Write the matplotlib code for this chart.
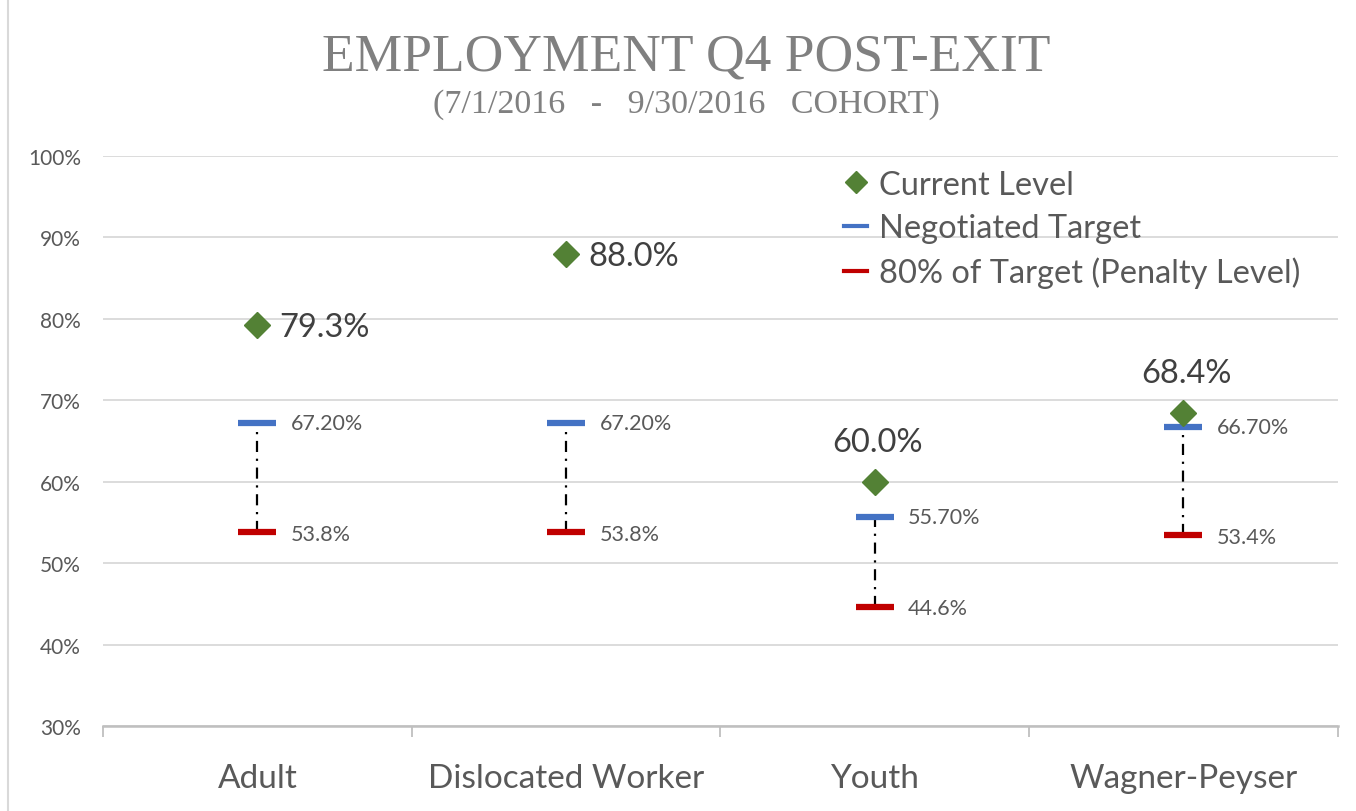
import matplotlib.pyplot as plt
from matplotlib.lines import Line2D

# ---------------- data ----------------
categories = ["Adult", "Dislocated Worker", "Youth", "Wagner-Peyser"]
current = [79.3, 88.0, 60.0, 68.4]
target = [67.2, 67.2, 55.7, 66.7]
penalty = [53.8, 53.8, 44.6, 53.4]
target_labels = ["67.20%", "67.20%", "55.70%", "66.70%"]
penalty_labels = ["53.8%", "53.8%", "44.6%", "53.4%"]
current_labels = ["79.3%", "88.0%", "60.0%", "68.4%"]
yticks = [30, 40, 50, 60, 70, 80, 90, 100]

green = "#538135"
blue = "#4472c4"
red = "#c00000"
txt = "#595959"
body_font = ["Lato", "DejaVu Sans"]

fig = plt.figure(figsize=(13.56, 8.12), dpi=100)
ax = fig.add_axes([0.076, 0.1047, 0.9105, 0.702])

x = list(range(len(categories)))

# ---- dash-dot connectors -----
ax.vlines(x, penalty, target, colors="black", linestyles=(0, (5, 3, 1, 3)), lw=1.6, zorder=2)

ax.plot(x, target, ls="none", marker="_", ms=27, mew=4.5, color=blue, zorder=3)
ax.plot(x, penalty, ls="none", marker="_", ms=27, mew=4.5, color=red, zorder=3)
ax.plot(x, current, ls="none", marker="D", ms=13, color=green, zorder=4)

for i in x:
    ax.annotate(target_labels[i], (i, target[i]), xytext=(24, 0), textcoords="offset points",
                va="center", ha="left", fontsize=15.5, color=txt, family=body_font)
    ax.annotate(penalty_labels[i], (i, penalty[i]), xytext=(24, -1), textcoords="offset points",
                va="center", ha="left", fontsize=15.5, color=txt, family=body_font)
    if i < 2:
        ax.annotate(current_labels[i], (i, current[i]), xytext=(16, -2), textcoords="offset points",
                    va="center", ha="left", fontsize=23.5, color="#404040", family=body_font)
    else:
        ax.annotate(current_labels[i], (i, current[i]), xytext=(2, 18), textcoords="offset points",
                    va="bottom", ha="center", fontsize=23.5, color="#404040", family=body_font)

ax.set_xlim(-0.5, 3.5)
ax.set_ylim(30, 100)
ax.set_yticks(yticks)
ax.set_yticklabels([f"{t}%" for t in yticks], fontsize=15, color=txt, family=body_font)
ax.grid(axis="y", color="#d9d9d9", lw=1.3)
ax.set_axisbelow(True)
for s in ["top", "right", "left"]:
    ax.spines[s].set_visible(False)
ax.spines["bottom"].set_color("#bfbfbf")
ax.spines["bottom"].set_linewidth(1.8)
ax.tick_params(axis="y", length=0, pad=16)

# category boundary ticks
ax.set_xticks([-0.5, 0.5, 1.5, 2.5, 3.5])
ax.set_xticklabels([])
ax.tick_params(axis="x", length=8, width=1.3, color="#bfbfbf")
for i, c in enumerate(categories):
    ax.text(i, 23.6, c, ha="center", va="center", fontsize=24, color=txt, family=body_font)

# ---- title ----
fig.text(0.506, 0.929, "EMPLOYMENT Q4 POST-EXIT", ha="center", va="center", fontsize=38.5,
         color="#808080", family=["Liberation Serif"])
fig.text(0.506, 0.871, "(7/1/2016   -   9/30/2016   COHORT)", ha="center", va="center", fontsize=24.5,
         color="#808080", family=["Liberation Serif"])

# ---- legend ----
handles = [
    Line2D([], [], ls="none", marker="D", ms=11, color=green),
    Line2D([], [], color=blue, lw=3),
    Line2D([], [], color=red, lw=3),
]
names = ["Current Level", "Negotiated Target", "80% of Target (Penalty Level)"]
leg = fig.legend(handles, names, loc="upper left", bbox_to_anchor=(0.601, 0.826), frameon=False,
                 handlelength=0.7, handletextpad=0.35, labelspacing=0.41,
                 prop={"family": body_font, "size": 23.5})
for t in leg.get_texts():
    t.set_color(txt)

# left border of the chart box
fig.add_artist(Line2D([0.006, 0.006], [0, 1], color="#d9d9d9", lw=1.5))

fig.savefig("out.png", dpi=100)
